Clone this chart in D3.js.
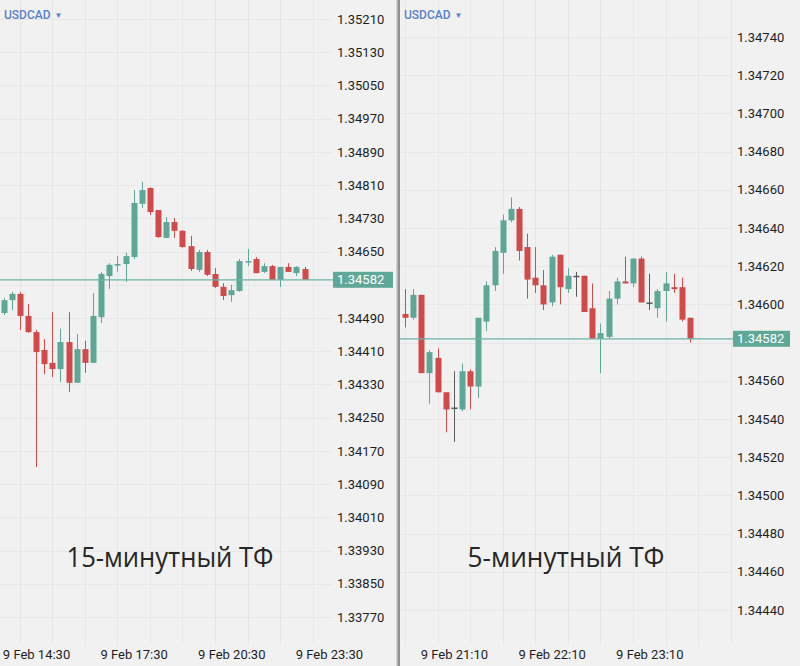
<!DOCTYPE html>
<html><head><meta charset="utf-8">
<script src="https://cdn.jsdelivr.net/npm/d3@7"></script>
<style>body{margin:0;background:#f1f1f1;}svg{display:block;}</style>
</head><body>
<svg id="c" width="800" height="666"></svg>
<script>
const symbol = "USDCAD";
const day = "2018-02-09";
const lastPrice = 1.34582;
const leftTitle = "15-минутный ТФ";
const rightTitle = "5-минутный ТФ";

// 15-minute panel
const leftTimes = ["13:30","13:45","14:00","14:15","14:30","14:45","15:00","15:15","15:30","15:45","16:00","16:15","16:30","16:45","17:00","17:15","17:30","17:45","18:00","18:15","18:30","18:45","19:00","19:15","19:30","19:45","20:00","20:15","20:30","20:45","21:00","21:15","21:30","21:45","22:00","22:15","22:30","22:45"];
const leftOpen  = [1.34502,1.34533,1.34548,1.34495,1.34456,1.34413,1.34382,1.34367,1.34432,1.34334,1.34415,1.34382,1.34492,1.34591,1.34617,1.34620,1.34637,1.34765,1.34803,1.34750,1.34683,1.34721,1.34700,1.34663,1.34606,1.34649,1.34596,1.34565,1.34545,1.34555,1.34625,1.34632,1.34601,1.34615,1.34582,1.34613,1.34598,1.34608];
const leftHigh  = [1.34538,1.34553,1.34553,1.34524,1.34461,1.34439,1.34504,1.34464,1.34504,1.34451,1.34435,1.34550,1.34601,1.34622,1.34639,1.34647,1.34798,1.34818,1.34805,1.34750,1.34733,1.34731,1.34702,1.34688,1.34654,1.34654,1.34610,1.34574,1.34570,1.34632,1.34656,1.34637,1.34622,1.34618,1.34613,1.34622,1.34615,1.34613];
const leftLow   = [1.34497,1.34509,1.34461,1.34454,1.34131,1.34355,1.34348,1.34336,1.34312,1.34334,1.34358,1.34382,1.34478,1.34560,1.34601,1.34577,1.34632,1.34755,1.34738,1.34683,1.34683,1.34683,1.34659,1.34603,1.34601,1.34591,1.34562,1.34533,1.34529,1.34553,1.34615,1.34598,1.34598,1.34582,1.34565,1.34601,1.34591,1.34582];
const leftClose = [1.34533,1.34548,1.34495,1.34456,1.34408,1.34379,1.34367,1.34432,1.34334,1.34415,1.34382,1.34495,1.34596,1.34618,1.34620,1.34639,1.34767,1.34798,1.34745,1.34685,1.34721,1.34700,1.34661,1.34608,1.34649,1.34594,1.34565,1.34543,1.34557,1.34627,1.34627,1.34598,1.34615,1.34582,1.34613,1.34601,1.34613,1.34582];
const leftTicks = [1.35210,1.35130,1.35050,1.34970,1.34890,1.34810,1.34730,1.34650,1.34570,1.34490,1.34410,1.34330,1.34250,1.34170,1.34090,1.34010,1.33930,1.33850,1.33770];
const leftTimeTicks = ["14:30","17:30","20:30","23:30"];

// 5-minute panel
const rightTimes = ["20:40","20:45","20:50","20:55","21:00","21:05","21:10","21:15","21:20","21:25","21:30","21:35","21:40","21:45","21:50","21:55","22:00","22:05","22:10","22:15","22:20","22:25","22:30","22:35","22:40","22:45","22:50","22:55","23:00","23:05","23:10","23:15","23:20","23:25","23:30","23:35"];
const rightOpen  = [1.34595,1.34593,1.34605,1.34564,1.34572,1.34554,1.34546,1.34545,1.34565,1.34557,1.34591,1.34610,1.34627,1.34644,1.34650,1.34630,1.34614,1.34610,1.34601,1.34626,1.34608,1.34615,1.34615,1.34598,1.34582,1.34583,1.34603,1.34612,1.34611,1.34624,1.34601,1.34598,1.34607,1.34609,1.34609,1.34593];
const rightHigh  = [1.34608,1.34608,1.34605,1.34576,1.34577,1.34554,1.34565,1.34569,1.34566,1.34593,1.34612,1.34630,1.34647,1.34656,1.34651,1.34637,1.34630,1.34618,1.34626,1.34626,1.34619,1.34617,1.34615,1.34611,1.34590,1.34607,1.34614,1.34625,1.34624,1.34625,1.34616,1.34608,1.34617,1.34616,1.34614,1.34593];
const rightLow   = [1.34588,1.34592,1.34564,1.34548,1.34554,1.34533,1.34528,1.34544,1.34545,1.34551,1.34586,1.34607,1.34616,1.34643,1.34623,1.34603,1.34606,1.34597,1.34599,1.34600,1.34606,1.34604,1.34596,1.34582,1.34564,1.34582,1.34600,1.34611,1.34609,1.34601,1.34597,1.34593,1.34591,1.34606,1.34591,1.34580];
const rightClose = [1.34593,1.34605,1.34564,1.34575,1.34554,1.34545,1.34546,1.34565,1.34557,1.34593,1.34610,1.34628,1.34644,1.34650,1.34628,1.34613,1.34610,1.34600,1.34625,1.34609,1.34615,1.34615,1.34596,1.34582,1.34585,1.34603,1.34612,1.34611,1.34624,1.34601,1.34601,1.34607,1.34611,1.34608,1.34592,1.34582];
const rightTicks = [1.34740,1.34720,1.34700,1.34680,1.34660,1.34640,1.34620,1.34600,1.34580,1.34560,1.34540,1.34520,1.34500,1.34480,1.34460,1.34440];
const rightTimeTicks = ["21:10","22:10","23:10"];

const UP = "#5ea797", DOWN = "#d04a4c", DOJI = "#5a5a5a", LINE = "#6cb3a6";
const parse = d3.timeParse("%Y-%m-%d %H:%M");
const fmt = d3.timeFormat("%-d %b %H:%M");
const svg = d3.select("#c");

svg.append("rect").attr("width",800).attr("height",666).attr("fill","#f1f1f1");

function panel(opt){
  const g = svg.append("g");
  const times = opt.times.map(t=>parse(day+" "+t));
  const x = d3.scaleTime().domain([times[0], times[times.length-1]]).range(opt.xr);
  const y = d3.scaleLinear().domain(opt.yd).range(opt.yr);
  // grid
  g.append("g").selectAll("line").data(opt.ticks).join("line")
    .attr("x1",opt.px0).attr("x2",opt.px1).attr("y1",d=>Math.round(y(d))+0.5).attr("y2",d=>Math.round(y(d))+0.5)
    .attr("stroke","#e7e7e7").attr("stroke-width",1);
  const vt = d3.timeMinute.every(opt.gridMin).range(d3.timeMinute.offset(times[0],-240), d3.timeMinute.offset(times[times.length-1],240))
     .filter(t=>x(t)>opt.px0 && x(t)<opt.px1);
  g.append("g").selectAll("line").data(vt).join("line")
    .attr("x1",d=>Math.round(x(d))+0.5).attr("x2",d=>Math.round(x(d))+0.5).attr("y1",0).attr("y2",645)
    .attr("stroke","#e7e7e7").attr("stroke-width",1);
  // candles
  const idx = d3.range(times.length);
  const bw = 6;
  const col = i => opt.c[i]>opt.o[i] ? UP : (opt.c[i]<opt.o[i] ? DOWN : DOJI);
  const cg = g.append("g");
  cg.selectAll("line").data(idx).join("line")
    .attr("x1",i=>Math.round(x(times[i]))+0.5).attr("x2",i=>Math.round(x(times[i]))+0.5)
    .attr("y1",i=>y(opt.h[i])).attr("y2",i=>y(opt.l[i]))
    .attr("stroke",col).attr("stroke-width",1);
  cg.selectAll("rect").data(idx).join("rect")
    .attr("x",i=>Math.round(x(times[i]))+0.5-bw/2).attr("width",bw)
    .attr("y",i=>y(Math.max(opt.o[i],opt.c[i])))
    .attr("height",i=>Math.max(1.5, Math.abs(y(opt.o[i])-y(opt.c[i]))))
    .attr("fill",col);
  // price line
  g.append("line").attr("x1",opt.px0).attr("x2",opt.px1)
    .attr("y1",y(lastPrice)).attr("y2",y(lastPrice)).attr("stroke",LINE).attr("stroke-width",1.3);
  // y axis (labels hidden under the price badge are not drawn)
  const ya = g.append("g").attr("transform",`translate(${opt.px1},0)`)
    .call(d3.axisRight(y).tickValues(opt.ticks).tickSize(0).tickPadding(4).tickFormat(d3.format(".5f")));
  ya.select(".domain").remove();
  ya.selectAll(".tick").filter(d=>Math.abs(y(d)-y(lastPrice))<10).remove();
  ya.selectAll("text").attr("font-family","Roboto").attr("font-size",13).attr("fill","#1e1e1e");
  // badge
  g.append("rect").attr("x",opt.px1).attr("y",y(lastPrice)-8).attr("width",opt.bw).attr("height",16).attr("fill","#5fa898");
  g.append("text").attr("x",opt.px1+4).attr("y",y(lastPrice)+4.5).text(d3.format(".5f")(lastPrice))
    .attr("font-family","Roboto").attr("font-size",13).attr("fill","#ffffff");
  // x axis
  const xa = g.append("g").attr("transform","translate(0,646)")
    .call(d3.axisBottom(x).tickValues(opt.timeTicks.map(t=>parse(day+" "+t))).tickSize(0).tickPadding(4).tickFormat(fmt));
  xa.select(".domain").remove();
  xa.selectAll("text").attr("font-family","Roboto").attr("font-size",13).attr("fill","#1e1e1e");
  // symbol
  const s = g.append("text").attr("x",opt.px0+4).attr("y",19).attr("font-family","Roboto").attr("font-weight",500)
    .attr("font-size",12).attr("fill","#5b80c6");
  s.append("tspan").text(symbol);
  s.append("tspan").attr("dx",4).attr("font-size",8).attr("dy",-1).text("▼");
  // title
  g.append("text").attr("x",opt.tx).attr("y",567).attr("text-anchor","middle")
    .attr("font-family","Open Sans").attr("font-size",28).attr("fill","#262626")
    .attr("textLength",opt.tw).attr("lengthAdjust","spacingAndGlyphs").text(opt.title);
}

panel({times:leftTimes,o:leftOpen,h:leftHigh,l:leftLow,c:leftClose,ticks:leftTicks,timeTicks:leftTimeTicks,
  xr:[3.5,304.5], yd:[1.33770,1.35210], yr:[617,19], px0:0, px1:333, bw:60, gridMin:60, tx:170, tw:207, title:leftTitle});
panel({times:rightTimes,o:rightOpen,h:rightHigh,l:rightLow,c:rightClose,ticks:rightTicks,timeTicks:rightTimeTicks,
  xr:[405,690], yd:[1.34440,1.34740], yr:[610,37], px0:400, px1:733, bw:57, gridMin:20, tx:566, tw:197, title:rightTitle});

// divider
svg.append("rect").attr("x",396).attr("y",0).attr("width",1.5).attr("height",666).attr("fill","#d2d2d2");
svg.append("rect").attr("x",397.5).attr("y",0).attr("width",2.5).attr("height",666).attr("fill","#8f8f8f");
</script>
</body></html>
